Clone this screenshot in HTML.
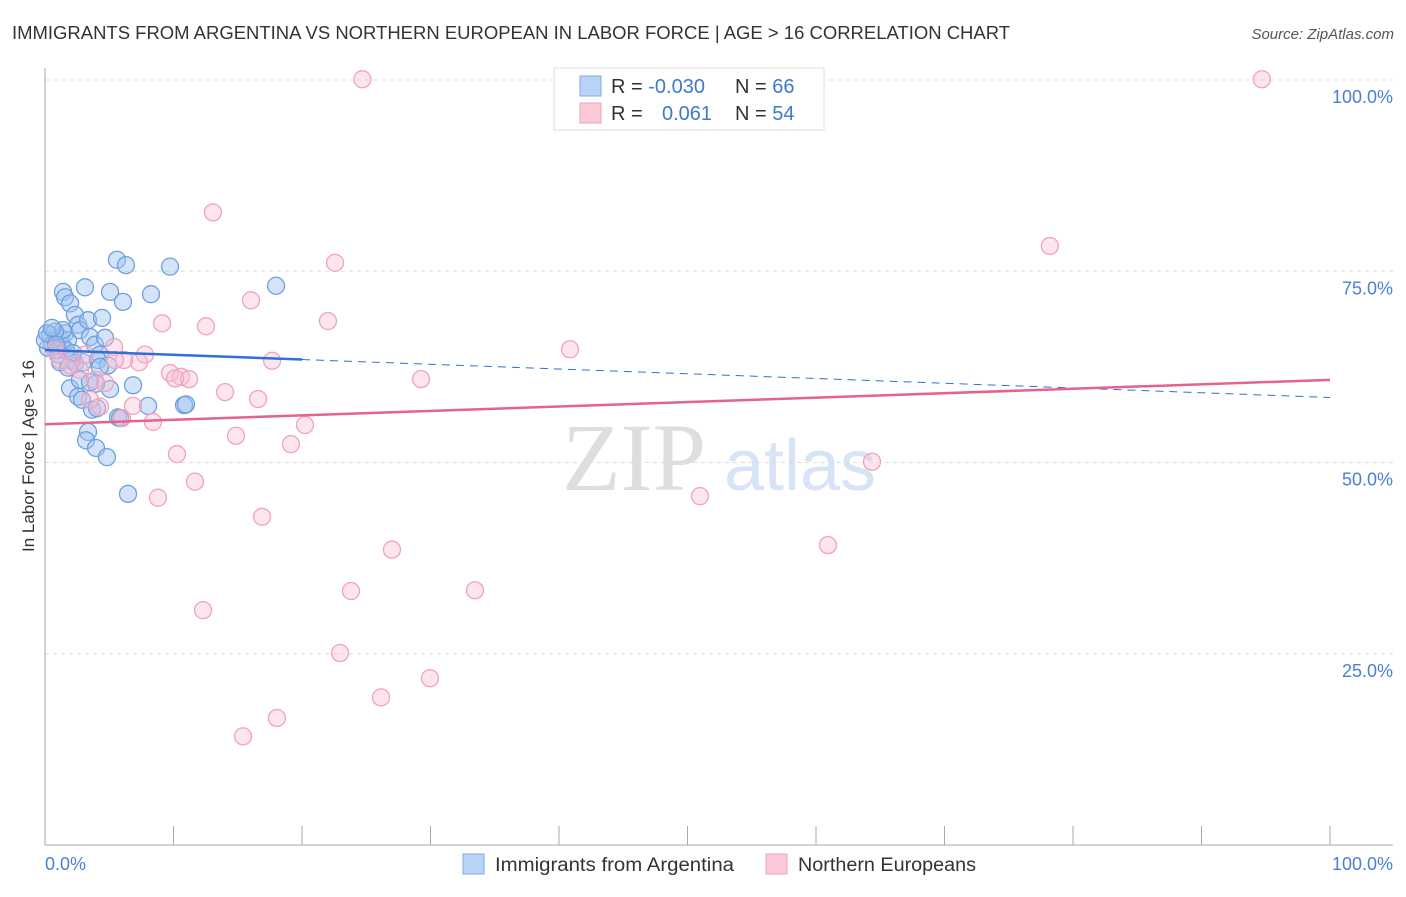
<!DOCTYPE html>
<html><head><meta charset="utf-8"><style>
body{margin:0;background:#fff;font-family:"Liberation Sans",sans-serif;}
svg text{font-family:"Liberation Sans",sans-serif;}
</style></head><body>
<svg id="chart" width="1406" height="892" xmlns="http://www.w3.org/2000/svg">
<text x="12" y="39" font-size="18" fill="#333" textLength="998" lengthAdjust="spacingAndGlyphs">IMMIGRANTS FROM ARGENTINA VS NORTHERN EUROPEAN IN LABOR FORCE | AGE &gt; 16 CORRELATION CHART</text>
<text x="1394" y="39" font-size="15" fill="#555" text-anchor="end" font-style="italic">Source: ZipAtlas.com</text>
<g>
<text x="634" y="490" font-size="96" fill="#dedede" text-anchor="middle" style="font-family:'Liberation Serif',serif">ZIP</text>
<text x="800" y="490" font-size="72" fill="#d6e4f6" text-anchor="middle">atlas</text>
</g>
<g id="grid"></g><g id="axes"></g><g id="pts"></g><g id="lines"></g>
<text transform="translate(34,456) rotate(-90)" font-size="17" fill="#333" text-anchor="middle">In Labor Force | Age &gt; 16</text>
<text x="45" y="870" font-size="18" fill="#4a7fd4">0.0%</text>
<text x="1393" y="870" font-size="18" fill="#4a7fd4" text-anchor="end">100.0%</text>
<g>
<rect x="554" y="68" width="270" height="62" fill="#fff" stroke="#ddd"/>
<rect x="580" y="76" width="21" height="20" fill="#b8d3f5" stroke="#7fabe6"/>
<rect x="580" y="103" width="21" height="20" fill="#fbc8d8" stroke="#f2a3bd"/>
<text x="611" y="93" font-size="20" fill="#333">R = <tspan fill="#3f78d0">-0.030</tspan></text>
<text x="735" y="93" font-size="20" fill="#333">N = <tspan fill="#3f78d0">66</tspan></text>
<text x="611" y="120" font-size="20" fill="#333">R = <tspan fill="#3f78d0" x="662">0.061</tspan></text>
<text x="735" y="120" font-size="20" fill="#333">N = <tspan fill="#3f78d0">54</tspan></text>
</g>
<g>
<rect x="463" y="854" width="21" height="20" fill="#b8d3f5" stroke="#7fabe6"/>
<text x="495" y="871" font-size="19" fill="#333" textLength="239" lengthAdjust="spacingAndGlyphs">Immigrants from Argentina</text>
<rect x="766" y="854" width="21" height="20" fill="#fbc8d8" stroke="#f2a3bd"/>
<text x="798" y="871" font-size="19" fill="#333" textLength="178" lengthAdjust="spacingAndGlyphs">Northern Europeans</text>
</g>
</svg>
<script>
const yTicks=[25,50,75,100];
const yTickLabels=["25.0%","50.0%","75.0%","100.0%"];
const blueX=[0.39,0.54,0.78,1.01,1.17,1.32,0.23,1.56,1.79,1.40,1.56,1.95,3.11,2.33,2.57,2.72,3.35,3.50,3.89,4.28,4.67,4.44,5.06,6.07,5.60,6.30,9.73,8.25,17.98,2.10,2.33,2.96,4.12,1.95,2.57,2.88,3.66,4.05,5.06,4.90,6.85,3.97,3.35,3.19,3.97,4.82,5.68,8.02,10.82,10.97,6.46,1.40,0.78,1.01,4.28,1.63,2.18,2.72,3.50,5.84,0.0,0.16,0.54,1.17,1.79,0.86];
const blueY=[66.7,65.4,66.0,64.7,66.3,65.4,65.0,66.9,66.0,72.3,71.6,70.8,72.9,69.3,68.0,67.3,68.6,66.4,65.4,64.1,66.3,68.9,72.3,71.0,76.5,75.8,75.6,72.0,73.1,63.4,63.0,63.1,63.4,59.7,58.6,58.2,56.9,57.1,59.6,62.7,60.1,60.3,54.0,52.9,51.9,50.7,55.9,57.4,57.5,57.6,45.9,67.3,67.1,64.1,62.5,64.7,64.3,60.8,60.5,55.8,66.0,66.9,67.6,63.1,62.4,65.4];
const pinkX=[24.7,94.7,13.07,78.2,22.57,16.03,9.11,12.53,22.02,40.86,5.37,7.78,7.32,6.15,17.67,9.73,10.58,11.21,29.26,14.01,16.58,6.85,5.99,8.40,20.23,14.86,19.14,10.27,64.36,11.67,8.79,50.97,16.89,27.0,60.93,23.81,33.46,12.30,22.96,29.96,26.15,18.05,15.41,2.72,3.89,4.67,1.17,1.95,0.78,3.11,5.45,4.28,3.50,10.12];
const pinkY=[100.1,100.1,82.7,78.3,76.1,71.2,68.2,67.8,68.5,64.8,65.1,64.1,63.1,63.4,63.3,61.7,61.2,60.9,60.9,59.2,58.3,57.4,55.8,55.3,54.9,53.5,52.4,51.1,50.1,47.5,45.4,45.6,42.9,38.6,39.2,33.2,33.3,30.7,25.1,21.8,19.3,16.6,14.2,62.1,60.8,60.4,63.4,62.7,64.7,64.1,63.4,57.3,58.2,61.0];
const blueTrend=[64.7,58.5];
const pinkTrend=[55.0,60.8];
const X=v=>45+v*12.85, Y=v=>845-v*7.65;
const NS="http://www.w3.org/2000/svg";
function mk(tag,attrs,parent){const e=document.createElementNS(NS,tag);for(const k in attrs)e.setAttribute(k,attrs[k]);document.getElementById(parent).appendChild(e);return e;}
yTicks.forEach((t,i)=>{
 const g=mk('line',{x1:45,x2:1393,y1:Y(t),y2:Y(t),stroke:'#ddd','stroke-dasharray':'4,4'},'grid');
 
 
 const l=mk('text',{x:1393,y:Y(t)+23,'font-size':18,fill:'#4a7fd4','text-anchor':'end'},'grid');
 l.textContent=yTickLabels[i];
 
 
});
const ax=mk('line',{x1:45,x2:45,y1:68,y2:845,stroke:'#aaa'},'axes');


const bx=mk('line',{x1:45,x2:1393,y1:845,y2:845,stroke:'#aaa'},'axes');


for(let i=0;i<=10;i++){
 const t=mk('line',{x1:X(i*10),x2:X(i*10),y1:826,y2:845,stroke:'#aaa'},'axes');
 
 
}
blueX.forEach((v,i)=>{
 const c=mk('circle',{cx:X(v),cy:Y(blueY[i]),r:8.5,fill:'rgba(160,196,240,0.45)',stroke:'#6f9fe0','stroke-width':1.3},'pts');
 
 
});
pinkX.forEach((v,i)=>{
 const c=mk('circle',{cx:X(v),cy:Y(pinkY[i]),r:8.5,fill:'rgba(248,190,210,0.4)',stroke:'#f0a3bc','stroke-width':1.3},'pts');
 
 
});
const bAt=x=>blueTrend[0]+(blueTrend[1]-blueTrend[0])*x/100;
const b1=mk('line',{x1:X(0),y1:Y(bAt(0)),x2:X(20),y2:Y(bAt(20)),stroke:'#2f6fd6','stroke-width':2.5},'lines');


const b2=mk('line',{x1:X(20),y1:Y(bAt(20)),x2:X(100),y2:Y(bAt(100)),stroke:'#2f6fd6','stroke-width':1,'stroke-dasharray':'8,6'},'lines');


const p1=mk('line',{x1:X(0),y1:Y(pinkTrend[0]),x2:X(100),y2:Y(pinkTrend[1]),stroke:'#e4628e','stroke-width':2.5},'lines');


</script>
</body></html>
